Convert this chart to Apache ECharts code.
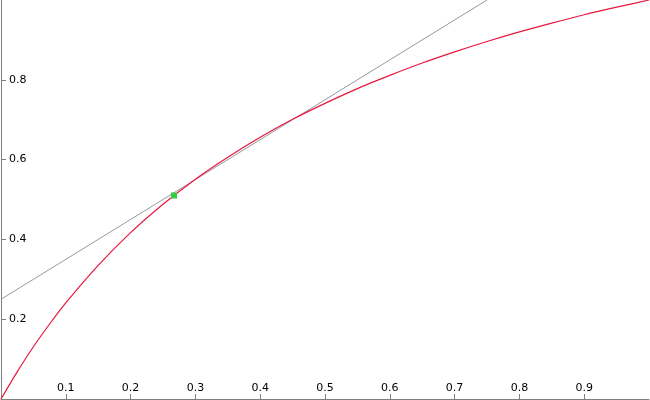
<!DOCTYPE html>
<html>
<head>
<meta charset="utf-8">
<style>
  html, body { margin: 0; padding: 0; background: #fff; }
  #main { width: 650px; height: 400px; }
</style>
<script src="https://cdn.jsdelivr.net/npm/echarts@6/dist/echarts.min.js"></script>
</head>
<body>
<div id="main"></div>
<script>
// x positions sampled along the red curve
var curveX = [0, 0.025, 0.05, 0.075, 0.1, 0.15, 0.2, 0.25, 0.3, 0.35, 0.4, 0.45,
              0.5, 0.55, 0.6, 0.65, 0.7, 0.75, 0.8, 0.85, 0.9, 0.95, 1];
// y values
var curveY = [0, 0.068, 0.131, 0.188, 0.241, 0.335, 0.417, 0.488, 0.551, 0.606, 0.656, 0.701,
              0.741, 0.778, 0.811, 0.842, 0.870, 0.896, 0.920, 0.942, 0.963, 0.982, 1];
// gray straight line, two ends
var lineX = [0, 0.75];
var lineY = [0.25, 1];
// green marked point
var pointX = [0.267];
var pointY = [0.51];

function pairs(xs, ys) {
  var out = [];
  for (var i = 0; i < xs.length; i++) out.push([xs[i], ys[i]]);
  return out;
}

var myChart = echarts.init(document.getElementById('main'));
var axisCommon = {
  type: 'value',
  min: 0,
  max: 1,
  splitLine: { show: false },
  axisLine: { show: true, lineStyle: { color: '#808080', width: 1 } },
  axisTick: { show: true, inside: true, length: 5, lineStyle: { color: '#808080' } }
};
var option = {
  animation: false,
  grid: { left: 1, right: 1, top: 0, bottom: 1 },
  xAxis: echarts.util.merge({
    interval: 0.1,
    axisLabel: {
      inside: true, margin: 5, showMinLabel: false, showMaxLabel: false,
      color: '#000', fontSize: 11, fontFamily: 'DejaVu Sans',
      formatter: function (v) { return +v.toFixed(1) + ''; }
    }
  }, axisCommon),
  yAxis: echarts.util.merge({
    interval: 0.2,
    axisLabel: {
      inside: true, margin: 8, showMinLabel: false, showMaxLabel: false,
      color: '#000', fontSize: 11, fontFamily: 'DejaVu Sans',
      formatter: function (v) { return +v.toFixed(1) + ''; }
    }
  }, axisCommon),
  series: [
    {
      type: 'line',
      data: pairs(lineX, lineY),
      showSymbol: false,
      lineStyle: { color: '#999999', width: 1 }
    },
    {
      type: 'line',
      data: pairs(curveX, curveY),
      smooth: 0.3,
      showSymbol: false,
      lineStyle: { color: '#e8173f', width: 1.2 }
    },
    {
      type: 'scatter',
      data: pairs(pointX, pointY),
      symbol: 'rect',
      symbolSize: 6,
      z: 5,
      itemStyle: { color: '#33cc44', opacity: 1 }
    }
  ]
};
myChart.setOption(option);
</script>
</body>
</html>
